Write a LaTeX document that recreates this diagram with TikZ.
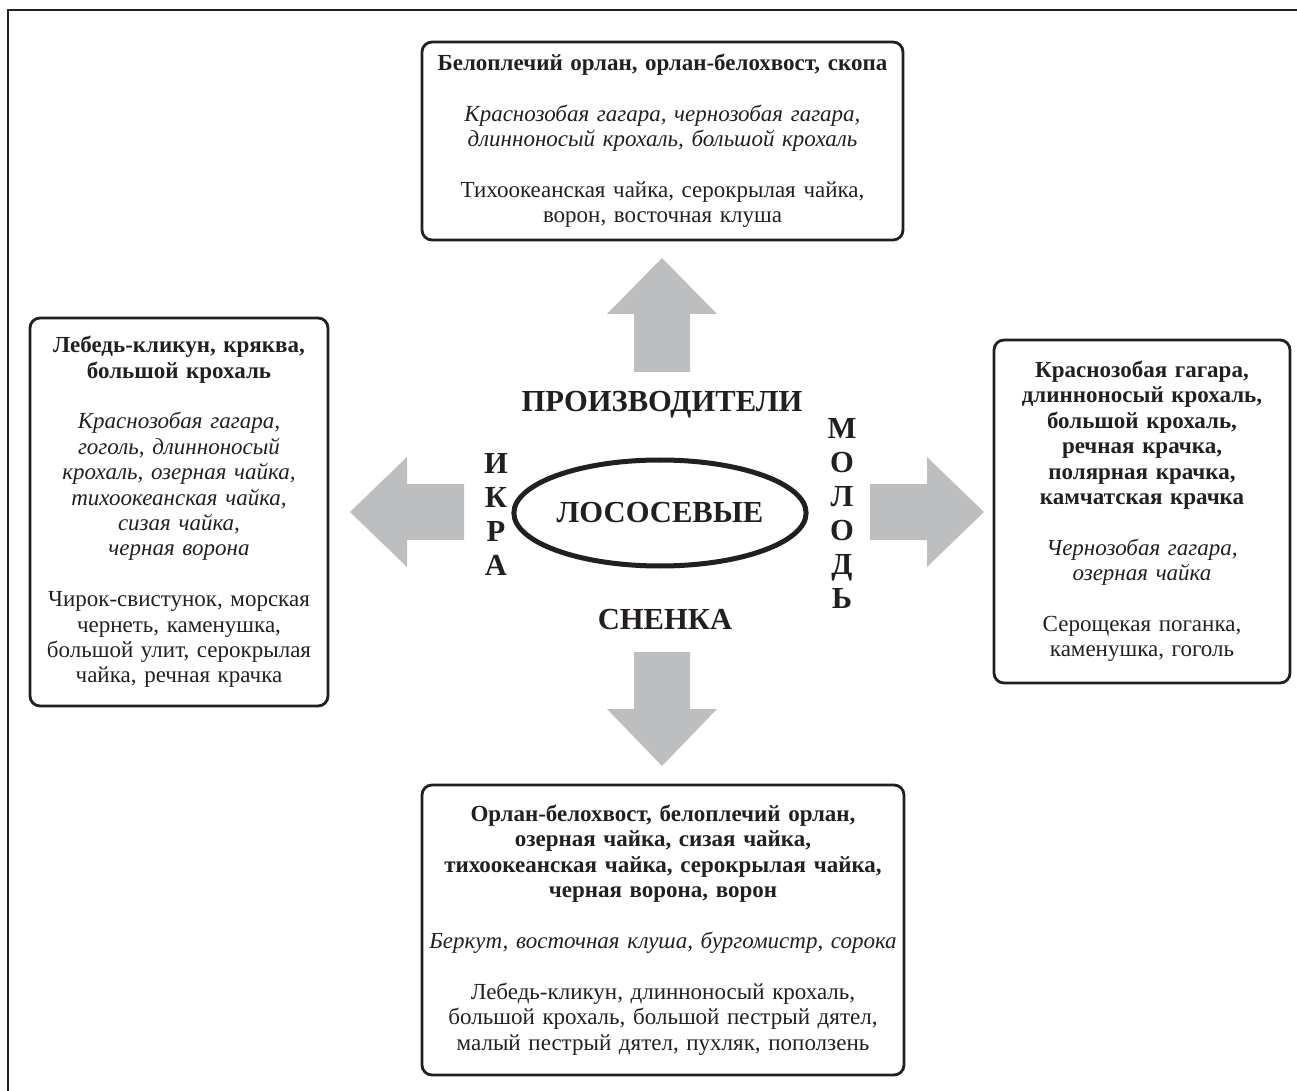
\documentclass[tikz,border=0pt]{standalone}
\usepackage{fontspec}
\setmainfont{Liberation Serif}
\usetikzlibrary{shapes.geometric}
\definecolor{inkblack}{HTML}{231F20}
\definecolor{arrowgray}{HTML}{BCBEC0}

\begin{document}
\begin{tikzpicture}[x=0.5pt,y=-0.5pt]
        \tikzstyle{box}=[draw=inkblack,rounded corners=5pt,line width=1.4pt,align=center,text=inkblack,inner sep=0pt,font=\fontsize{11.5}{12.7}\selectfont]
        \tikzstyle{stage}=[align=center,text=inkblack,inner sep=0pt,font=\fontsize{15.3}{17}\selectfont\bfseries]
        \tikzstyle{bigarrow}=[fill=arrowgray]

        \useasboundingbox (0,0) rectangle (1297,1091);
        \draw [line width=1pt, inkblack] (8,1091) -- (8,10) -- (1297,10);

        % block arrows, drawn pointing right and turned
        \fill [bigarrow, shift={(984,512)}] (0,0) -- (-57,-55) -- (-57,-28) -- (-114,-28) -- (-114,28) -- (-57,28) -- (-57,55) -- cycle;
        \fill [bigarrow, shift={(350,512)}, rotate=180] (0,0) -- (-57,-55) -- (-57,-28) -- (-114,-28) -- (-114,28) -- (-57,28) -- (-57,55) -- cycle;
        \fill [bigarrow, shift={(662,258)}, rotate=90] (0,0) -- (-56,-55) -- (-56,-28) -- (-114,-28) -- (-114,28) -- (-56,28) -- (-56,55) -- cycle;
        \fill [bigarrow, shift={(662,766)}, rotate=-90] (0,0) -- (-57,-55) -- (-57,-28) -- (-114,-28) -- (-114,28) -- (-57,28) -- (-57,55) -- cycle;

        \draw node at (660,513) [stage, ellipse, draw=inkblack, line width=2.5pt, minimum width=130pt, minimum height=53pt] (salmon) {ЛОСОСЕВЫЕ};

        \draw node at (662,405) [stage] (adults) {ПРОИЗВОДИТЕЛИ};
        \draw node at (665,620) [stage] (carcass) {СНЕНКА};
        \draw node at (496,514) [stage] (roe) {И\\К\\Р\\А};
        \draw node at (842,513) [stage] (fry) {М\\О\\Л\\О\\Д\\Ь};

        \draw node at (662.5,141) [box, minimum width=240.5pt, minimum height=99pt, text width=236pt] (top) {%
          {\bfseries Белоплечий орлан, орлан-белохвост, скопа}\\[12.7pt]
          {\itshape Краснозобая гагара, чернозобая гагара,\\ длинноносый крохаль, большой крохаль}\\[12.7pt]
          Тихоокеанская чайка, серокрылая чайка,\\ ворон, восточная клуша};
        \draw node at (179,512) [box, minimum width=149pt, minimum height=194pt, text width=145pt] (left) {%
          {\bfseries Лебедь-кликун, кряква,\\ большой крохаль}\\[12.7pt]
          {\itshape Краснозобая гагара,\\ гоголь, длинноносый\\ крохаль, озерная чайка,\\ тихоокеанская чайка,\\ сизая чайка,\\ черная ворона}\\[12.7pt]
          Чирок-свистунок, морская\\ чернеть, каменушка,\\ большой улит, серокрылая\\ чайка, речная крачка};
        \draw node at (1142,511.5) [box, minimum width=148pt, minimum height=171.5pt, text width=144pt] (right) {%
          {\bfseries Краснозобая гагара,\\ длинноносый крохаль,\\ большой крохаль,\\ речная крачка,\\ полярная крачка,\\ камчатская крачка}\\[12.7pt]
          {\itshape Чернозобая гагара,\\ озерная чайка}\\[12.7pt]
          Серощекая поганка,\\ каменушка, гоголь};
        \draw node at (663,930) [box, minimum width=241pt, minimum height=145pt, text width=238pt] (bottom) {%
          {\bfseries Орлан-белохвост, белоплечий орлан,\\ озерная чайка, сизая чайка,\\ тихоокеанская чайка, серокрылая чайка,\\ черная ворона, ворон}\\[12.7pt]
          {\itshape Беркут, восточная клуша, бургомистр, сорока}\\[12.7pt]
          Лебедь-кликун, длинноносый крохаль,\\ большой крохаль, большой пестрый дятел,\\ малый пестрый дятел, пухляк, поползень};
    \end{tikzpicture}
\end{document}
